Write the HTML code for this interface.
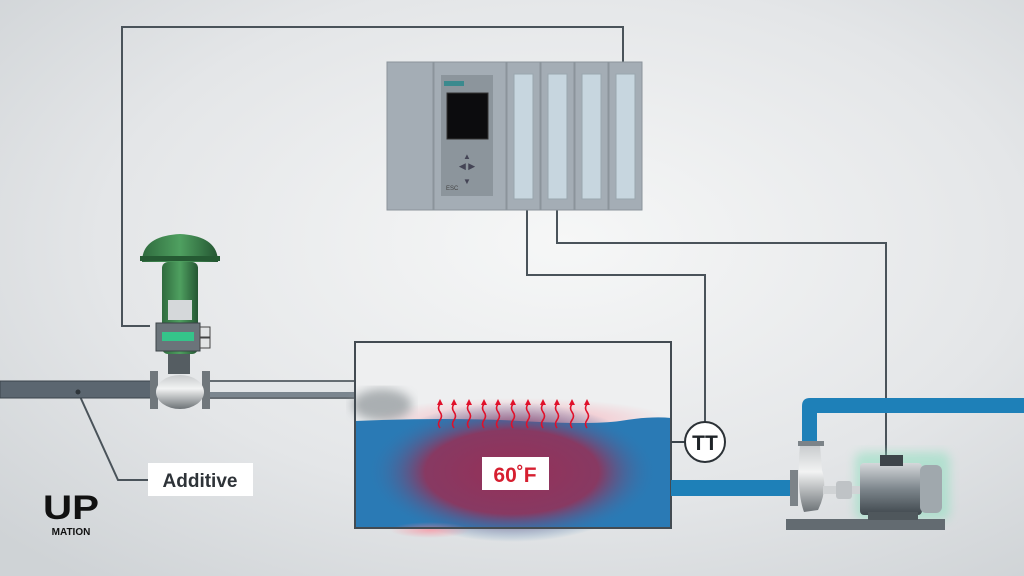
<!DOCTYPE html>
<html><head><meta charset="utf-8"><style>
html,body{margin:0;padding:0;width:1024px;height:576px;overflow:hidden}
svg{display:block}
text{font-family:"Liberation Sans",sans-serif}
</style></head><body>
<svg id="s" width="1024" height="576" viewBox="0 0 1024 576">
<defs>
<radialGradient id="bg" cx="0.55" cy="0.42" r="0.75">
<stop offset="0" stop-color="#f6f7f7"/><stop offset="0.6" stop-color="#e4e6e8"/><stop offset="1" stop-color="#cfd3d6"/></radialGradient>
<radialGradient id="heat" cx="0.5" cy="0.5" r="0.5">
<stop offset="0" stop-color="#963058"/><stop offset="0.6" stop-color="#8c365e" stop-opacity="0.95"/><stop offset="1" stop-color="#2a7ab5" stop-opacity="0"/></radialGradient>
<radialGradient id="glowr" cx="0.5" cy="0.5" r="0.5">
<stop offset="0" stop-color="#ff8090" stop-opacity="0.6"/><stop offset="1" stop-color="#ff8090" stop-opacity="0"/></radialGradient>
<linearGradient id="green" x1="0" y1="0" x2="1" y2="0">
<stop offset="0" stop-color="#2f6b3e"/><stop offset="0.5" stop-color="#4fa060"/><stop offset="1" stop-color="#245532"/></linearGradient>
<linearGradient id="steel" x1="0" y1="0" x2="0" y2="1">
<stop offset="0" stop-color="#c8cbcd"/><stop offset="0.4" stop-color="#f2f3f3"/><stop offset="1" stop-color="#6d7377"/></linearGradient>
<linearGradient id="motor" x1="0" y1="0" x2="0" y2="1">
<stop offset="0" stop-color="#d5d8da"/><stop offset="0.5" stop-color="#7d868c"/><stop offset="1" stop-color="#3f474d"/></linearGradient>
<filter id="blur"><feGaussianBlur stdDeviation="5"/></filter>
</defs>
<rect width="1024" height="576" fill="url(#bg)"/>

<g fill="none" stroke="#4a535a" stroke-width="2">
<polyline points="150,326 122,326 122,27 623,27 623,64"/>
<polyline points="527,208 527,275 705,275 705,422"/>
<polyline points="557,208 557,243 886,243 886,456"/>
<polyline points="78,392 118,480 148,480"/>
</g>

<g id="plc">
<rect x="387" y="62" width="46" height="148" fill="#a4adb5" stroke="#8b949b"/>
<rect x="434" y="62" width="72" height="148" fill="#a4adb5" stroke="#8b949b"/>
<rect x="441" y="75" width="52" height="121" fill="#8c959c"/>
<rect x="444" y="81" width="20" height="5" fill="#3b8a8e"/>
<rect x="447" y="93" width="41" height="46" fill="#0c0c0e" stroke="#333"/>
<text x="467" y="169" font-size="9" fill="#445" text-anchor="middle">◀ ▶</text>
<text x="467" y="159" font-size="8" fill="#445" text-anchor="middle">▲</text>
<text x="467" y="184" font-size="8" fill="#445" text-anchor="middle">▼</text>
<text x="446" y="190" font-size="6" fill="#444">ESC</text>
</g>

<g>
<rect x="0" y="381" width="152" height="17" fill="#5b6670" stroke="#3b444b"/>
<circle cx="78" cy="392" r="2.5" fill="#2e353a"/>
<rect x="208" y="381" width="147" height="17" fill="#e3e6e8" stroke="#3b444b" stroke-width="1.5"/>
<rect x="209" y="392" width="146" height="5" fill="#7b868f"/>
<rect x="150" y="371" width="8" height="38" fill="#70777c"/>
<rect x="202" y="371" width="8" height="38" fill="#70777c"/>
<ellipse cx="180" cy="392" rx="24" ry="17" fill="url(#steel)"/>
<rect x="168" y="350" width="22" height="24" fill="#555d62"/>
<rect x="162" y="262" width="36" height="92" rx="6" fill="url(#green)"/>
<rect x="168" y="300" width="24" height="20" fill="#d5d8da"/>
<path d="M142,262 Q142,236 180,234 Q218,236 218,262 Z" fill="url(#green)"/>
<rect x="140" y="256" width="80" height="5" fill="#255a33"/>
<rect x="156" y="323" width="44" height="28" fill="#6b747a" stroke="#3c4348"/>
<rect x="162" y="332" width="32" height="9" fill="#35c48a"/>
<rect x="200" y="327" width="10" height="10" fill="#e2e4e5" stroke="#444"/>
<rect x="200" y="338" width="10" height="10" fill="#e2e4e5" stroke="#444"/>
</g>

<rect x="148" y="463" width="105" height="33" fill="#fff"/>
<text x="200" y="487" font-size="19" font-weight="bold" fill="#2e3338" text-anchor="middle">Additive</text>

<text x="43" y="519" font-size="34" font-weight="bold" fill="#111" textLength="56" lengthAdjust="spacingAndGlyphs">UP</text>
<text x="71" y="535" font-size="10" font-weight="bold" fill="#111" text-anchor="middle">MATION</text>

<g>
<rect x="355" y="342" width="316" height="186" fill="#eeeff0"/>
<ellipse cx="520" cy="420" rx="150" ry="22" fill="url(#glowr)"/>
<ellipse cx="382" cy="405" rx="30" ry="16" fill="#8e9498" opacity="0.7" filter="url(#blur)"/>
<path d="M355,421 Q450,417 520,421 T620,421 Q650,416 671,418 L671,527 L355,527 Z" fill="#2a7ab5"/>
<ellipse cx="512" cy="472" rx="145" ry="70" fill="url(#heat)"/>
<ellipse cx="430" cy="530" rx="40" ry="8" fill="url(#glowr)"/>
<rect x="355" y="342" width="316" height="186" fill="none" stroke="#434b52" stroke-width="2"/>
<g id="arrows"></g>
<rect x="482" y="457" width="67" height="33" fill="#fff"/>
<text x="515" y="482" font-size="21" font-weight="bold" fill="#d61f30" text-anchor="middle">60˚F</text>
</g>

<line x1="671" y1="442" x2="685" y2="442" stroke="#3b444b" stroke-width="2"/>
<circle cx="705" cy="442" r="20" fill="#fff" stroke="#2b3136" stroke-width="2"/>
<text x="705" y="450" font-size="21" font-weight="bold" fill="#1e2327" text-anchor="middle">TT</text>

<g fill="#1e80b8">
<rect x="671" y="480" width="122" height="16"/>
<path d="M802,445 L802,406 Q802,398 810,398 L1024,398 L1024,413 L817,413 L817,445 Z"/>
</g>

<g>
<rect x="855" y="452" width="95" height="68" rx="8" fill="#8fe0c0" opacity="0.55" filter="url(#blur)"/>
<rect x="786" y="519" width="159" height="11" fill="#636b71"/>
<rect x="790" y="470" width="8" height="36" fill="#7c8388"/>
<path d="M800,445 L820,445 L822,470 Q828,490 818,510 L804,512 Q796,490 800,445 Z" fill="url(#steel)"/>
<rect x="798" y="441" width="26" height="5" fill="#7c8388"/>
<rect x="823" y="486" width="40" height="8" fill="#d0d3d5"/>
<rect x="836" y="481" width="16" height="18" rx="3" fill="#bfc3c6"/>
<rect x="860" y="463" width="62" height="52" rx="4" fill="url(#motor)"/>
<rect x="920" y="465" width="22" height="48" rx="6" fill="#a0a8ad"/>
<rect x="880" y="455" width="23" height="11" fill="#3d4449"/>
<rect x="868" y="512" width="50" height="8" fill="#4f575c"/>
</g>

<script>
const arrowX = [440,454,469,484,498,513,528,543,557,572,587];
const modX = [507,541,575,609];
const svgNS = "http://www.w3.org/2000/svg";
const plc = document.getElementById('plc');
modX.forEach((x,i)=>{
  const r=document.createElementNS(svgNS,'rect');
  r.setAttribute('x',x);r.setAttribute('y',62);r.setAttribute('width',33);r.setAttribute('height',148);
  r.setAttribute('fill','#a4adb5');r.setAttribute('stroke','#8b949b');
  
  
  plc.appendChild(r);
  const p=document.createElementNS(svgNS,'rect');
  p.setAttribute('x',x+7);p.setAttribute('y',74);p.setAttribute('width',19);p.setAttribute('height',125);
  p.setAttribute('fill','#c7d6df');p.setAttribute('stroke','#9aa6ae');
  
  
  plc.appendChild(p);
});
const g=document.getElementById('arrows');
arrowX.forEach(x=>{
  const p=document.createElementNS(svgNS,'path');
  p.setAttribute('d',`M${x},428 q-3,-4 0,-8 q3,-4 0,-8 q-3,-4 0,-8 L${x},404`);
  p.setAttribute('fill','none');p.setAttribute('stroke','#e0102a');p.setAttribute('stroke-width','1.6');
  
  
  g.appendChild(p);
  const h=document.createElementNS(svgNS,'path');
  h.setAttribute('d',`M${x-3},405 L${x},399 L${x+3},405 Z`);
  h.setAttribute('fill','#e0102a');
  
  
  g.appendChild(h);
});
</script>
</svg>
</body></html>
